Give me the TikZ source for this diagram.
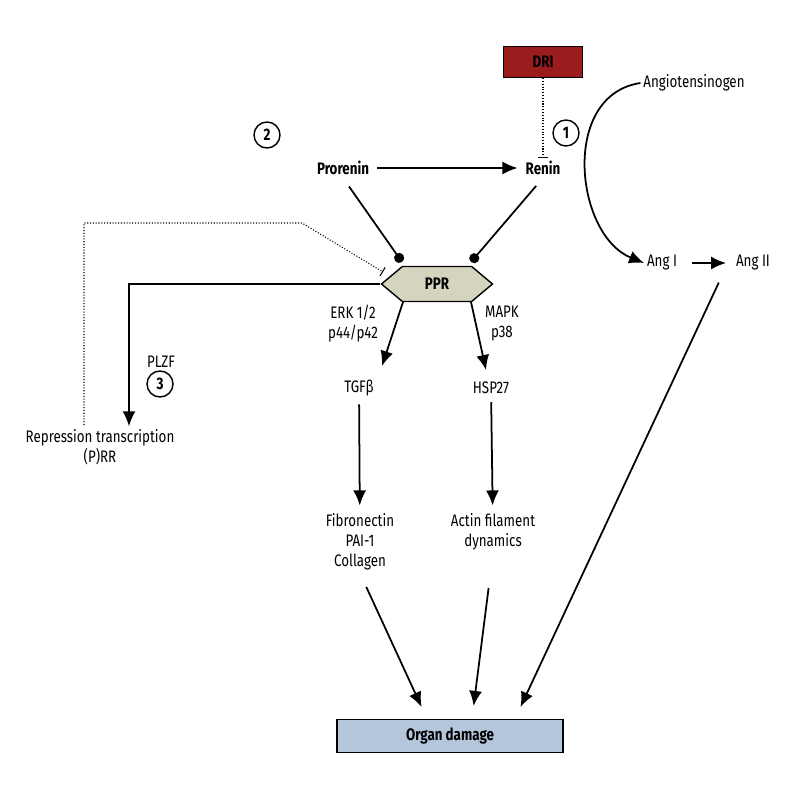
\documentclass[tikz,border=0pt]{standalone}
\usepackage{fontspec}
\setmainfont[FakeStretch=0.8]{Fira Sans}
\usetikzlibrary{arrows.meta,shapes.symbols}
\definecolor{drired}{HTML}{9B1C1C}
\definecolor{pprfill}{HTML}{D5D5BF}
\definecolor{organblue}{HTML}{B4C6DC}
\newcommand{\diagfont}{\fontsize{9.5}{11.4}\selectfont}

\begin{document}
\begin{tikzpicture}[x=0.02cm,y=-0.02cm,
  every node/.style={inner sep=1.5pt,font=\diagfont},
  arr/.style={line width=1pt,-{Latex[length=3mm,width=2.6mm]}},
  dotarr/.style={line width=1pt,-{Circle[length=2mm]}},
  inhib/.style={densely dotted,line width=0.6pt,-{Bar[width=2mm]}},
  num/.style={circle,draw,line width=0.8pt,minimum size=0.52cm,inner sep=0pt,font=\diagfont\bfseries},
  lbl/.style={align=center},
  bold/.style={font=\diagfont\bfseries}]
\useasboundingbox (0,0) rectangle (800,800);

%top row
\node[bold,draw,line width=0.8pt,fill=drired,minimum width=1.58cm,minimum height=0.62cm] (dri) at (543,62) {DRI};
\node (angio) at (694,83) {Angiotensinogen};
\node[num] (one) at (566,133) {1};
\node[num] (two) at (267,135) {2};
\node[bold] (pro) at (343,168) {Prorenin};
\node[bold] (renin) at (543,168) {Renin};
\node (angI) at (662,263) {Ang I};
\node (angII) at (753,263) {Ang II};

%receptor
\node[bold,draw,line width=0.8pt,fill=pprfill,signal,signal to=east and west,signal pointer angle=80,
  minimum width=2.22cm,minimum height=0.7cm,inner sep=0pt] (ppr) at (437,284) {PPR};
\coordinate (dotL) at (402,262);
\coordinate (dotR) at (471,262);
\coordinate (pprBL) at (403,302);
\coordinate (pprBR) at (471,302);

%pathways
\node[lbl] (erk) at (353,324) {ERK 1/2\\p44/p42};
\node[lbl] (mapk) at (502,324) {MAPK\\p38};
\node (tgf) at (359,388) {TGFβ};
\node (hsp) at (491,388) {HSP27};
\node[lbl] (fib) at (360,542) {Fibronectin\\PAI-1\\Collagen};
\node[lbl] (actin) at (493,532) {Actin filament\\dynamics};
\node (plzf) at (161,362) {PLZF};
\node[num] (three) at (160,384) {3};
\node[lbl] (rep) at (100,447) {Repression transcription\\(P)RR};
\node[bold,draw,line width=0.8pt,fill=organblue,minimum width=4.52cm,minimum height=0.66cm] (organ) at (450,736) {Organ damage};

%free ends
\coordinate (tgfIn) at (382,366);
\coordinate (hspIn) at (486,370);
\coordinate (repBend) at (129,284);
\coordinate (fbTop) at (84,425);
\coordinate (fbCorner) at (84,223);
\coordinate (fbKnee) at (302,223);
\coordinate (fbEnd) at (383,272);

%arrows
\draw[arr,shorten <=3pt,shorten >=3pt] (pro) -- (renin);
\draw[arr,shorten <=0.25cm,shorten >=0.14cm] (angI) -- (angII);
\draw[inhib] (dri.south) -- (renin.north);
\draw[arr] (angio.west) .. controls (560,95) and (575,235) .. (angI.west);
\draw[dotarr,shorten <=6pt] (pro.south) -- (dotL);
\draw[dotarr,shorten <=6pt] (renin.south) -- (dotR);
\draw[arr] (pprBL) -- (tgfIn);
\draw[arr] (pprBR) -- (hspIn);
\draw[arr,shorten <=3pt,shorten >=3pt] (tgf) -- (fib);
\draw[arr,shorten <=3pt,shorten >=3pt] (hsp) -- (actin);
\draw[arr] (ppr.west) -- (repBend) -- (repBend |- rep.north);
\draw[inhib] (fbTop) -- (fbCorner) -- (fbKnee) -- (fbEnd);
\draw[arr,shorten <=0.3cm,shorten >=0.26cm] (fib.south) -- ([xshift=-0.46cm]organ.north);
\draw[arr,shorten <=0.7cm,shorten >=0.26cm] (actin.south) -- ([xshift=0.44cm]organ.north);
\draw[arr,shorten <=0.2cm,shorten >=0.26cm] ([xshift=-0.6cm]angII.south) -- ([xshift=1.3cm]organ.north);
\end{tikzpicture}
\end{document}
